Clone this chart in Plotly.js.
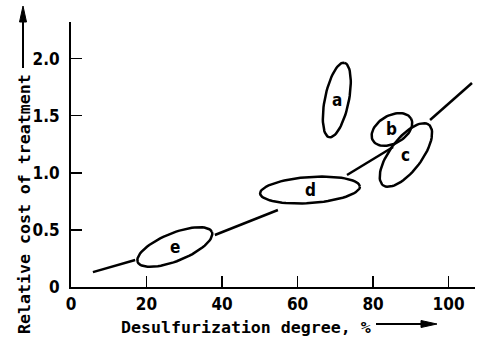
<!DOCTYPE html>
<html>
<head>
<meta charset="utf-8">
<script src="https://cdn.plot.ly/plotly-3.0.1.min.js"></script>
<style>html,body{margin:0;padding:0;background:#fff;}#chart{width:481px;height:337px;}</style>
</head>
<body>
<div id="chart"></div>
<script>
// ---- data ----
var curveX = [5.8, 17.0, null, 38.1, 46.6, 54.8, null, 73.1, 85.3, null, 95.1, 106.2];
var curveY = [0.13, 0.236, null, 0.455, 0.569, 0.674, null, 0.981, 1.226, null, 1.462, 1.786];

var regionLabels = ['a', 'b', 'c', 'd', 'e'];
var regionX = [70.4, 85.0, 88.7, 63.3, 27.5];
var regionY = [1.637, 1.379, 1.156, 0.849, 0.350];

var xTickVals = [0, 20, 40, 60, 80, 100];
var xTickText = ['0', '20', '40', '60', '80', '100'];
var yTickVals = [0, 0.5, 1.0, 1.5, 2.0];
var yTickText = ['0', '0.5', '1.0', '1.5', '2.0'];

// ---- style / geometry (pixels, degrees) ----
var ellipseStyle = {
  a: {A: 38, B: 12, ang: 78.5},
  b: {A: 22, B: 14, ang: 30},
  c: {A: 38, B: 16, ang: 53},
  d: {A: 50, B: 13, ang: 4},
  e: {A: 40, B: 14, ang: 22}
};

var W = 481, H = 337;
var margin = {l: 71, r: 6, t: 22, b: 50, pad: 0};
var xRange = [0, 107], yRange = [0, 2.32];
var plotW = W - margin.l - margin.r, plotH = H - margin.t - margin.b;
var kx = plotW / (xRange[1] - xRange[0]);
var ky = plotH / (yRange[1] - yRange[0]);

var tickFont = {family: '"Liberation Sans Narrow", "DejaVu Sans Condensed", sans-serif', size: 17, color: '#000', weight: 'bold'};
var labelFont = {family: '"DejaVu Sans Condensed", sans-serif', size: 17, color: '#000', weight: 'bold'};
var titleFont = {family: '"DejaVu Sans Mono", monospace', size: 16.6, color: '#000', weight: 'bold'};

var traces = [{
  x: curveX, y: curveY, type: 'scatter', mode: 'lines',
  line: {color: '#000', width: 2.5}, connectgaps: false, hoverinfo: 'skip', showlegend: false
}];

var annotations = [];
regionLabels.forEach(function (lab, i) {
  var s = ellipseStyle[lab];
  var th = s.ang * Math.PI / 180;
  var ex = [], ey = [];
  for (var k = 0; k <= 72; k++) {
    var t = 2 * Math.PI * k / 72;
    var dx = s.A * Math.cos(t) * Math.cos(th) - s.B * Math.sin(t) * Math.sin(th);
    var dy = s.A * Math.cos(t) * Math.sin(th) + s.B * Math.sin(t) * Math.cos(th);
    ex.push(regionX[i] + dx / kx);
    ey.push(regionY[i] + dy / ky);
  }
  traces.push({x: ex, y: ey, type: 'scatter', mode: 'lines', line: {color: '#000', width: 2.5},
    hoverinfo: 'skip', showlegend: false});
  annotations.push({x: regionX[i], y: regionY[i], xref: 'x', yref: 'y', text: lab, showarrow: false,
    font: labelFont, xanchor: 'center', yanchor: 'middle'});
});

function px2paperX(px) { return (px - margin.l) / plotW; }
function py2paperY(py) { return (H - margin.b - py) / plotH; }

annotations.push({x: px2paperX(246), y: py2paperY(327), xref: 'paper', yref: 'paper',
  text: 'Desulfurization degree, %', showarrow: false, font: titleFont, xanchor: 'center', yanchor: 'middle'});
annotations.push({x: px2paperX(24), y: py2paperY(204), xref: 'paper', yref: 'paper',
  text: 'Relative cost of treatment', showarrow: false, font: titleFont, textangle: -90,
  xanchor: 'center', yanchor: 'middle'});

var shapes = [
  // x title arrow
  {type: 'line', xref: 'paper', yref: 'paper', x0: px2paperX(376), x1: px2paperX(425), y0: py2paperY(324), y1: py2paperY(324), line: {color: '#000', width: 2}},
  {type: 'path', xref: 'paper', yref: 'paper', path: 'M' + px2paperX(437) + ',' + py2paperY(324) + ' L' + px2paperX(421) + ',' + py2paperY(320.5) + ' L' + px2paperX(421) + ',' + py2paperY(327.5) + ' Z', fillcolor: '#000', line: {color: '#000', width: 1}},
  // y title arrow
  {type: 'line', xref: 'paper', yref: 'paper', x0: px2paperX(23), x1: px2paperX(23), y0: py2paperY(68), y1: py2paperY(18), line: {color: '#000', width: 2}},
  {type: 'path', xref: 'paper', yref: 'paper', path: 'M' + px2paperX(23) + ',' + py2paperY(6) + ' L' + px2paperX(19.5) + ',' + py2paperY(22) + ' L' + px2paperX(26.5) + ',' + py2paperY(22) + ' Z', fillcolor: '#000', line: {color: '#000', width: 1}}
];

var layout = {
  width: W, height: H, margin: margin,
  paper_bgcolor: '#fff', plot_bgcolor: '#fff',
  showlegend: false,
  xaxis: {range: xRange, showgrid: false, zeroline: false, showline: true, linecolor: '#000', linewidth: 2,
    ticks: 'inside', ticklen: 11, tickwidth: 1.5, tickcolor: '#000',
    tickmode: 'array', tickvals: xTickVals, ticktext: xTickText, tickfont: tickFont, ticklabelstandoff: 1},
  yaxis: {range: yRange, showgrid: false, zeroline: false, showline: true, linecolor: '#000', linewidth: 2,
    ticks: 'inside', ticklen: 11, tickwidth: 1.5, tickcolor: '#000',
    tickmode: 'array', tickvals: yTickVals, ticktext: yTickText, tickfont: tickFont, ticklabelstandoff: 6},
  annotations: annotations,
  shapes: shapes
};

Plotly.newPlot('chart', traces, layout, {displayModeBar: false, staticPlot: true});
</script>
</body>
</html>
